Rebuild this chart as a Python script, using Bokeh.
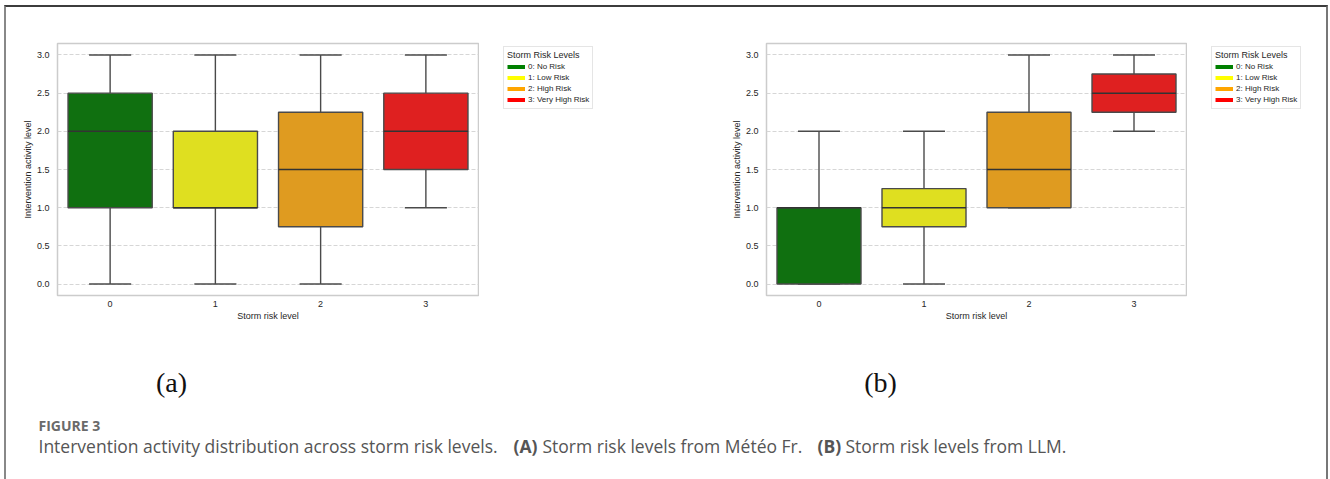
from bokeh.plotting import figure
from bokeh.models import ColumnDataSource, Range1d, FixedTicker, Legend, LegendItem
from bokeh.layouts import column, row
from bokeh.transform import dodge
from bokeh.core.properties import value
from bokeh.embed import file_html
from bokeh.resources import INLINE

# ---------------- data ----------------
categories = [0, 1, 2, 3]
risk_labels = ["0: No Risk", "1: Low Risk", "2: High Risk", "3: Very High Risk"]
legend_colors = ["green", "yellow", "orange", "red"]
box_colors = ["#107010", "#dfdf20", "#df9b20", "#df2020"]
y_ticks = [0.0, 0.5, 1.0, 1.5, 2.0, 2.5, 3.0]
y_tick_labels = ["0.0", "0.5", "1.0", "1.5", "2.0", "2.5", "3.0"]
x_tick_labels = ["0", "1", "2", "3"]

# (a) Storm risk levels from Météo France
a_lower = [0.0, 0.0, 0.0, 1.0]
a_q1 = [1.0, 1.0, 0.75, 1.5]
a_median = [2.0, 1.0, 1.5, 2.0]
a_q3 = [2.5, 2.0, 2.25, 2.5]
a_upper = [3.0, 3.0, 3.0, 3.0]

# (b) Storm risk levels from LLM
b_lower = [0.0, 0.0, 1.0, 2.0]
b_q1 = [0.0, 0.75, 1.0, 2.25]
b_median = [1.0, 1.0, 1.5, 2.5]
b_q3 = [1.0, 1.25, 2.25, 2.75]
b_upper = [2.0, 2.0, 3.0, 3.0]

x_label = "Storm risk level"
y_label = "Intervention activity level"
legend_title = "Storm Risk Levels"
panel_labels = ["(a)", "(b)"]
fig_label = "FIGURE 3"
caption_parts = [
    ("Intervention activity distribution across storm risk levels.", "normal"),
    ("(A)", "bold"),
    ("Storm risk levels from Météo Fr.", "normal"),
    ("(B)", "bold"),
    ("Storm risk levels from LLM.", "normal"),
]

FONT = "Liberation Sans"
EDGE = "#4a4a4a"
TOP_H = 333
NAN = float("nan")


def make_box(lower, q1, med, q3, upper, mb_left, width):
    p = figure(width=width, height=TOP_H, x_range=Range1d(-0.5, 3.5),
               y_range=Range1d(-0.15, 3.15), output_backend="svg",
               toolbar_location=None, min_border_left=mb_left,
               min_border_right=1, min_border_top=36,
               min_border_bottom=45)
    src = ColumnDataSource(dict(x=categories, lower=lower, q1=q1, med=med,
                                q3=q3, upper=upper, color=box_colors))
    wk = dict(source=src, line_color=EDGE, line_width=1.4)
    p.segment(x0="x", y0="lower", x1="x", y1="q1", **wk)
    p.segment(x0="x", y0="q3", x1="x", y1="upper", **wk)
    p.segment(x0=dodge("x", -0.2), y0="lower", x1=dodge("x", 0.2), y1="lower", **wk)
    p.segment(x0=dodge("x", -0.2), y0="upper", x1=dodge("x", 0.2), y1="upper", **wk)
    p.vbar(x="x", width=0.8, bottom="q1", top="q3", fill_color="color",
           line_color=EDGE, line_width=1.4, source=src)
    p.segment(x0=dodge("x", -0.4), y0="med", x1=dodge("x", 0.4), y1="med",
              source=src, line_color="#333333", line_width=1.5)

    p.xaxis.ticker = FixedTicker(ticks=categories)
    p.xaxis.major_label_overrides = {c: l for c, l in zip(categories, x_tick_labels)}
    p.yaxis.ticker = FixedTicker(ticks=y_ticks)
    p.yaxis.major_label_overrides = {t: l for t, l in zip(y_ticks, y_tick_labels)}
    for ax in (p.xaxis, p.yaxis):
        ax.axis_line_color = None
        ax.major_tick_line_color = None
        ax.minor_tick_line_color = None
        ax.major_tick_out = 0
        ax.major_tick_in = 0
        ax.minor_tick_out = 0
        ax.major_label_text_font = FONT
        ax.major_label_text_font_size = "9px"
        ax.major_label_text_color = "#262626"
        ax.axis_label_text_font = FONT
        ax.axis_label_text_font_size = "9px"
        ax.axis_label_text_font_style = "normal"
        ax.axis_label_text_color = "#262626"
    p.xaxis.axis_label = x_label
    p.yaxis.axis_label = y_label
    p.xaxis.major_label_standoff = 5
    p.xaxis.axis_label_standoff = 1
    p.yaxis.major_label_standoff = 8
    p.yaxis.axis_label_standoff = 1

    p.xgrid.visible = False
    p.ygrid.grid_line_color = "#d6d6d6"
    p.ygrid.grid_line_dash = "4 2"
    p.ygrid.grid_line_width = 1
    p.outline_line_color = "#cccccc"
    p.outline_line_width = 1.5
    return p


def make_legend_panel(width):
    q = figure(width=width, height=TOP_H, x_range=Range1d(0, 1),
               y_range=Range1d(0, 1), output_backend="svg",
               toolbar_location=None, min_border=0,
               x_axis_location=None, y_axis_location=None)
    q.grid.visible = False
    q.outline_line_color = None
    items = []
    for lab, col in zip(risk_labels, legend_colors):
        r = q.line(x=[NAN, NAN], y=[NAN, NAN], line_color=col, line_width=4)
        items.append(LegendItem(label=lab, renderers=[r]))
    leg = Legend(items=items, location=(24, 186), title=legend_title,
                 title_text_font=FONT, title_text_font_size="9px",
                 title_text_font_style="normal", title_text_color="#262626",
                 title_standoff=1, label_text_font=FONT,
                 label_text_font_size="8px", label_text_color="#262626",
                 glyph_width=18, glyph_height=11, label_height=11,
                 label_standoff=3, spacing=0, padding=3, margin=0,
                 border_line_color="#cccccc", border_line_width=1,
                 background_fill_alpha=0.9)
    q.add_layout(leg)
    return q


fa = make_box(a_lower, a_q1, a_median, a_q3, a_upper, 51, 473)
la = make_legend_panel(188)
fb = make_box(b_lower, b_q1, b_median, b_q3, b_upper, 99, 520)
lb = make_legend_panel(139)

# caption panel in page pixel coordinates
cap = figure(width=1320, height=139, x_range=Range1d(6, 1326),
             y_range=Range1d(479, 340), output_backend="svg",
             toolbar_location=None, min_border=0,
             x_axis_location=None, y_axis_location=None)
cap.grid.visible = False
cap.outline_line_color = None

cap.text(x=[171, 880], y=[382, 382], text=panel_labels,
         text_font=value("Liberation Serif"), text_font_size="28px",
         text_align="center", text_baseline="alphabetic", text_color="#111111")
cap.text(x=[38], y=[425], text=[fig_label], text_font=value("Open Sans"),
         text_font_size="14px", text_font_style="bold",
         text_baseline="alphabetic", text_color="#6a6a6a")
cap_x = [38, 513, 542, 817, 845]
for (txt, style), xx in zip(caption_parts, cap_x):
    cap.text(x=[xx], y=[445.5], text=[txt], text_font=value("Open Sans"),
             text_font_size="17.5px", text_font_style=style,
             text_baseline="alphabetic", text_color="#555555")

root = column(row(fa, la, fb, lb), cap,
              styles={"margin-left": "4px", "margin-top": "5px",
                      "border-top": "2px solid #3c3c3c",
                      "border-left": "2px solid #888888",
                      "border-right": "2px solid #777777"})

open("out.html", "w").write(file_html(root, INLINE))
